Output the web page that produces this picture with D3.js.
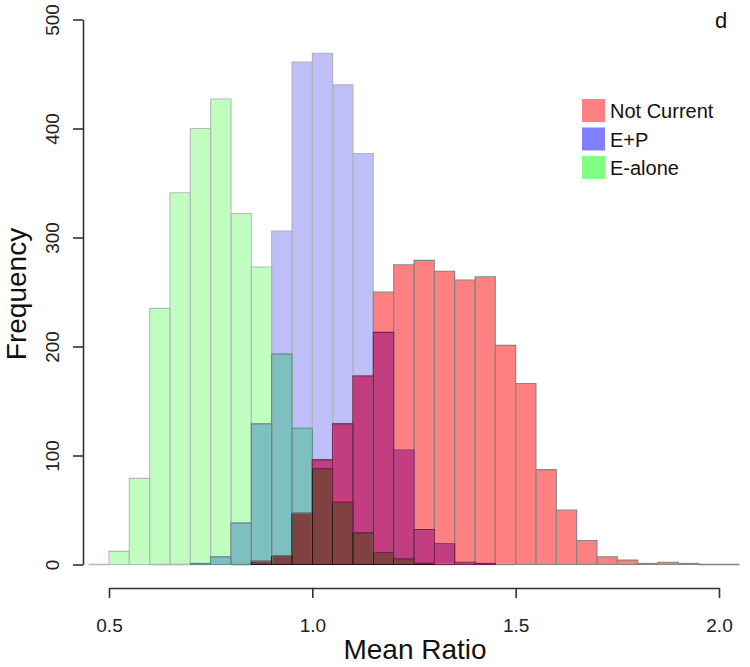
<!DOCTYPE html>
<html>
<head>
<meta charset="utf-8">
<script src="https://cdn.jsdelivr.net/npm/d3@7"></script>
<style>
  html, body { margin: 0; padding: 0; background: #fff; }
  svg { display: block; font-family: "Liberation Sans", Arial, sans-serif; }
</style>
</head>
<body>
<svg id="chart" width="750" height="667"></svg>
<script>
// ---- data ----
const binStarts = [0.45,0.50,0.55,0.60,0.65,0.70,0.75,0.80,0.85,0.90,0.95,1.00,1.05,1.10,1.15,1.20,
                   1.25,1.30,1.35,1.40,1.45,1.50,1.55,1.60,1.65,1.70,1.75,1.80,1.85,1.90,1.95,2.00];
const binWidth = 0.05;
const seriesNames = ["Not Current", "E+P", "E-alone"];
const notCurrent = [null,null,null,null,null,null,null,0,3,8,47,96,129,173,250,275,
                    279,269,261,264,201,166,87,50,22,7,4,1,2,1,0,0];
const ePlusP     = [null,null,null,0,0,1,7,38,129,306,461,469,440,377,213,105,
                    32,19,2,1,0,null,null,null,null,null,null,null,null,null,null,null];
const eAlone     = [0,12,79,235,341,400,427,322,273,193,125,88,57,29,11,5,
                    1,0,null,null,null,null,null,null,null,null,null,null,null,null,null,null];
const xTicks = [0.5, 1.0, 1.5, 2.0];
const yTicks = [0, 100, 200, 300, 400, 500];

// ---- styling ----
const legendColors = ["#FF8080", "#8080FF", "#80FF80"];
// fill colours of the overlap regions, keyed by which series cover them (R,B,G)
const overlapFill = {
  "R": "#FF8080", "B": "#BEBEF9", "G": "#C0FFC0",
  "RB": "#C23E80", "BG": "#7EBFBF", "RG": "#C08040", "RBG": "#804141"
};
const overlapStroke = { "RB": "#7A1E4E", "BG": "#5E8C8C", "RG": "#7A5020", "RBG": "#2A1010" };
const strokeCols = { "R": "#858585", "B": "#B2B2BE", "G": "#B8B8B8" };

const svg = d3.select("#chart");
const x = d3.scaleLinear().domain([0.5, 2.0]).range([109, 719]);
const y = d3.scaleLinear().domain([0, 500]).range([564.5, 19.5]);

const series = [
  { key: "R", values: notCurrent },
  { key: "B", values: ePlusP },
  { key: "G", values: eAlone }
];

// ---- overlap segments ----
const segs = [];
binStarts.forEach((b, i) => {
  const present = series.filter(s => s.values[i] != null && s.values[i] > 0)
                        .map(s => ({ key: s.key, v: s.values[i] }));
  const levels = Array.from(new Set(present.map(p => p.v))).sort((a, c) => a - c);
  let lo = 0;
  levels.forEach(hi => {
    const cover = present.filter(p => p.v >= hi).map(p => p.key);
    const k = ["R", "B", "G"].filter(c => cover.includes(c)).join("");
    segs.push({ b, lo, hi, k });
    lo = hi;
  });
});

const barPath = (b, lo, hi) => {
  const x0 = x(b), x1 = x(b + binWidth), y0 = y(lo), y1 = y(hi);
  return `M${x0},${y0}V${y1}H${x1}V${y0}Z`;
};

svg.append("g").selectAll("rect").data(segs).join("rect")
  .attr("x", d => x(d.b))
  .attr("width", d => x(d.b + binWidth) - x(d.b))
  .attr("y", d => y(d.hi))
  .attr("height", d => y(d.lo) - y(d.hi))
  .attr("fill", d => overlapFill[d.k])
  .attr("shape-rendering", "crispEdges");

// ---- bar outlines per series (empty bins drawn as a flat line) ----
["G", "B", "R"].forEach(k => {
  const s = series.find(t => t.key === k);
  const data = binStarts.map((b, i) => ({ b, v: s.values[i] })).filter(d => d.v != null);
  const g = svg.append("g");
  g.selectAll("path").data(data.filter(d => d.v > 0)).join("path")
    .attr("d", d => barPath(d.b, 0, d.v))
    .attr("fill", "none")
    .attr("stroke", strokeCols[k])
    .attr("stroke-width", 1.1);
  g.selectAll("line").data(data.filter(d => d.v === 0)).join("line")
    .attr("x1", d => x(d.b)).attr("x2", d => x(d.b + binWidth))
    .attr("y1", y(0)).attr("y2", y(0))
    .attr("stroke", strokeCols[k])
    .attr("stroke-width", 1.6);
});

// ---- darker outlines where bars overlap ----
svg.append("g").selectAll("path").data(segs.filter(d => d.k.length > 1)).join("path")
  .attr("d", d => barPath(d.b, d.lo, d.hi))
  .attr("fill", "none")
  .attr("stroke", d => overlapStroke[d.k])
  .attr("stroke-width", 1.1);

// ---- axes ----
const yAxis = svg.append("g").attr("transform", "translate(83,0)")
  .call(d3.axisLeft(y).tickValues(yTicks).tickSize(10).tickSizeOuter(0).tickFormat(d3.format("d")));
yAxis.selectAll("text")
  .attr("x", null).attr("dy", null)
  .attr("transform", "translate(-24,0) rotate(-90)")
  .attr("text-anchor", "middle")
  .style("font-size", "19px").attr("fill", "#222");

const xAxis = svg.append("g").attr("transform", "translate(0,588)")
  .call(d3.axisBottom(x).tickValues(xTicks).tickSize(10).tickSizeOuter(0)
        .tickPadding(21).tickFormat(d3.format(".1f")));
xAxis.selectAll("text").style("font-size", "19px").attr("fill", "#222");

[yAxis, xAxis].forEach(g => {
  g.attr("font-family", null).attr("font-size", null);
  g.select(".domain").attr("stroke", "#333").attr("stroke-width", 1.6);
  g.selectAll(".tick line").attr("stroke", "#333").attr("stroke-width", 1.6);
});

// ---- titles ----
svg.append("text").attr("transform", "translate(26,294) rotate(-90)")
  .attr("text-anchor", "middle").style("font-size", "28px").attr("fill", "#111")
  .text("Frequency");
svg.append("text").attr("x", 415).attr("y", 659)
  .attr("text-anchor", "middle").style("font-size", "28px").attr("fill", "#111")
  .text("Mean Ratio");
svg.append("text").attr("x", 721).attr("y", 28)
  .attr("text-anchor", "middle").style("font-size", "22px").attr("fill", "#111")
  .text("d");

// ---- legend ----
const leg = svg.append("g").attr("transform", "translate(582,99)");
seriesNames.forEach((n, i) => {
  const g = leg.append("g").attr("transform", `translate(0,${i * 28.5})`);
  g.append("rect").attr("width", 23).attr("height", 23).attr("fill", legendColors[i]);
  g.append("text").attr("x", 28).attr("y", 19).style("font-size", "20px").attr("fill", "#111").text(n);
});
</script>
</body>
</html>
